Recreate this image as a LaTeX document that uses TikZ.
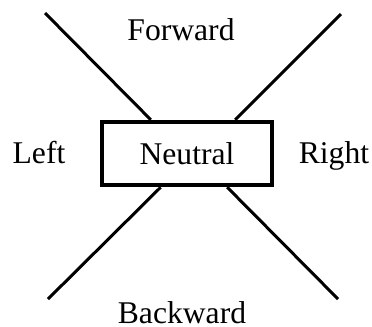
\documentclass[tikz,border=0pt]{standalone}
\usepackage{fontspec}
\setmainfont{Liberation Serif}
\usepackage{tikz}
\usetikzlibrary{positioning}

\begin{document}
\begin{tikzpicture}[
  x=0.02cm, y=-0.02cm,
  every node/.style={font=\fontsize{18}{21.6}\selectfont},
  modebox/.style={rectangle, draw=black, line width=0.09cm, fill=white,
                  minimum width=3.4cm, minimum height=1.26cm, inner sep=0pt},
  dirlabel/.style={anchor=base},
  spoke/.style={line width=0.06cm, black}
]
  \useasboundingbox (0,0) rectangle (372,326);

  \node[modebox] (N) at (187,153.5) {Neutral};

  \node[dirlabel] (F) at (181,40)  {Forward};
  \node[dirlabel] (B) at (182,323) {Backward};
  \node[dirlabel] (L) at (39,163)  {Left};
  \node[dirlabel] (R) at (334,163) {Right};

  \coordinate (fl) at (45,13);
  \coordinate (fr) at (341,14);
  \coordinate (bl) at (48,299);
  \coordinate (br) at (338,299);

  \foreach \a/\b in {fl/137, fr/35, bl/232, br/320}
    \draw[spoke] (\a) -- (N.\b);
\end{tikzpicture}
\end{document}
